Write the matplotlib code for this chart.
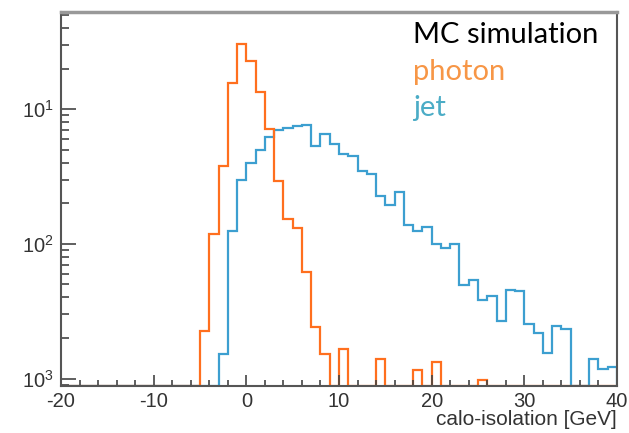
import numpy as np
import matplotlib
matplotlib.use("Agg")
import matplotlib.pyplot as plt
from matplotlib.ticker import FixedLocator, LogLocator, FuncFormatter, MultipleLocator

# bin edges of the calo-isolation histograms (1 GeV bins)
edges = np.arange(-20, 41, 1)

# photon (orange), one value per bin from -20 to 40 GeV
photon = [0] * 15 + [
    2.25e-3, 0.0119, 0.0381, 0.156, 0.306,      # -5 .. 0
    0.226, 0.135, 0.0717, 0.0291, 0.0153,       # 0 .. 5
    0.0132, 6.2e-3, 2.4e-3, 1.53e-3, 0,         # 5 .. 10
    1.65e-3, 0, 0, 0, 1.4e-3,                   # 10 .. 15
    0, 0, 0, 1.15e-3, 0,                        # 15 .. 20
    1.33e-3, 0, 0, 0, 0,                        # 20 .. 25
    9.7e-4, 0, 0, 0, 0,                         # 25 .. 30
    0, 0, 0, 0, 0,                              # 30 .. 35
    0, 0, 0, 0, 0,                              # 35 .. 40
]

# jet (blue)
jet = [0] * 17 + [
    1.53e-3, 0.01245, 0.0298,                   # -3 .. 0
    0.0399, 0.0493, 0.0621, 0.0697, 0.073,      # 0 .. 5
    0.075, 0.0768, 0.0535, 0.0658, 0.0553,      # 5 .. 10
    0.0467, 0.045, 0.035, 0.0332, 0.0228,       # 10 .. 15
    0.0195, 0.0241, 0.0138, 0.01245, 0.0134,    # 15 .. 20
    9.9e-3, 9.25e-3, 0.0100, 4.97e-3, 5.36e-3,  # 20 .. 25
    3.8e-3, 4.1e-3, 2.69e-3, 4.56e-3, 4.5e-3,   # 25 .. 30
    2.54e-3, 2.16e-3, 1.55e-3, 2.47e-3, 2.33e-3,  # 30 .. 35
    0, 0, 1.4e-3, 1.18e-3, 1.22e-3,             # 35 .. 40
]

ymin, ymax = 8.8e-4, 0.526

plt.rcParams['font.family'] = ['Liberation Sans', 'DejaVu Sans']
plt.rcParams['mathtext.default'] = 'regular'
plt.rcParams['axes.unicode_minus'] = False

fig = plt.figure(figsize=(6.29, 4.33), dpi=100)
ax = fig.add_axes([61 / 629, 1 - 386 / 433, 556 / 629, 374 / 433])

# empty bins are drawn on the frame bottom, like ROOT does
jet_draw = np.where(np.array(jet) > 0, jet, ymin)
photon_draw = np.where(np.array(photon) > 0, photon, ymin)
ax.stairs(jet_draw, edges, color='#3c9fd0', lw=1.6)
ax.stairs(photon_draw, edges, color='#ff6f1e', lw=1.6)

ax.set_yscale('log')
ax.set_xlim(-20, 40)
ax.set_ylim(ymin, ymax)

ax.xaxis.set_major_locator(MultipleLocator(10))
ax.xaxis.set_minor_locator(MultipleLocator(2))
ax.yaxis.set_major_locator(FixedLocator([1e-3, 1e-2, 1e-1]))
ax.yaxis.set_minor_locator(LogLocator(base=10, subs=np.arange(2, 10)))
ax.yaxis.set_minor_formatter(FuncFormatter(lambda v, p: ''))
ax.yaxis.set_major_formatter(
    FuncFormatter(lambda v, p: '$10^{%d}$' % -int(round(np.log10(v)))))

ax.tick_params(axis='both', which='both', direction='in', colors='#444',
               top=False, right=False, labelsize=14.5, width=1.2)
ax.tick_params(axis='x', which='major', length=8, pad=4)
ax.tick_params(axis='x', which='minor', length=4)
ax.tick_params(axis='y', which='major', length=11, pad=5)
ax.tick_params(axis='y', which='minor', length=6)
for lab in ax.get_xticklabels() + ax.get_yticklabels():
    lab.set_color('#333')

for side in ['left', 'bottom', 'right']:
    ax.spines[side].set_color('#555')
    ax.spines[side].set_linewidth(1.5)
ax.spines['top'].set_color('#999')
ax.spines['top'].set_linewidth(2.5)

ax.set_xlabel('calo-isolation [GeV]', fontsize=15, color='#333')
ax.xaxis.set_label_coords(1.0, -0.065)
ax.xaxis.label.set_horizontalalignment('right')

fig.text(413 / 629, 1 - 43 / 433, 'MC simulation', color='black',
         fontsize=21, family='Lato', va='baseline')
fig.text(413 / 629, 1 - 80 / 433, 'photon', color='#f79646',
         fontsize=21, family='Lato', va='baseline')
fig.text(413 / 629, 1 - 116 / 433, 'jet', color='#4bacc6',
         fontsize=21, family='Lato', va='baseline')

fig.savefig('out.png', dpi=100)
